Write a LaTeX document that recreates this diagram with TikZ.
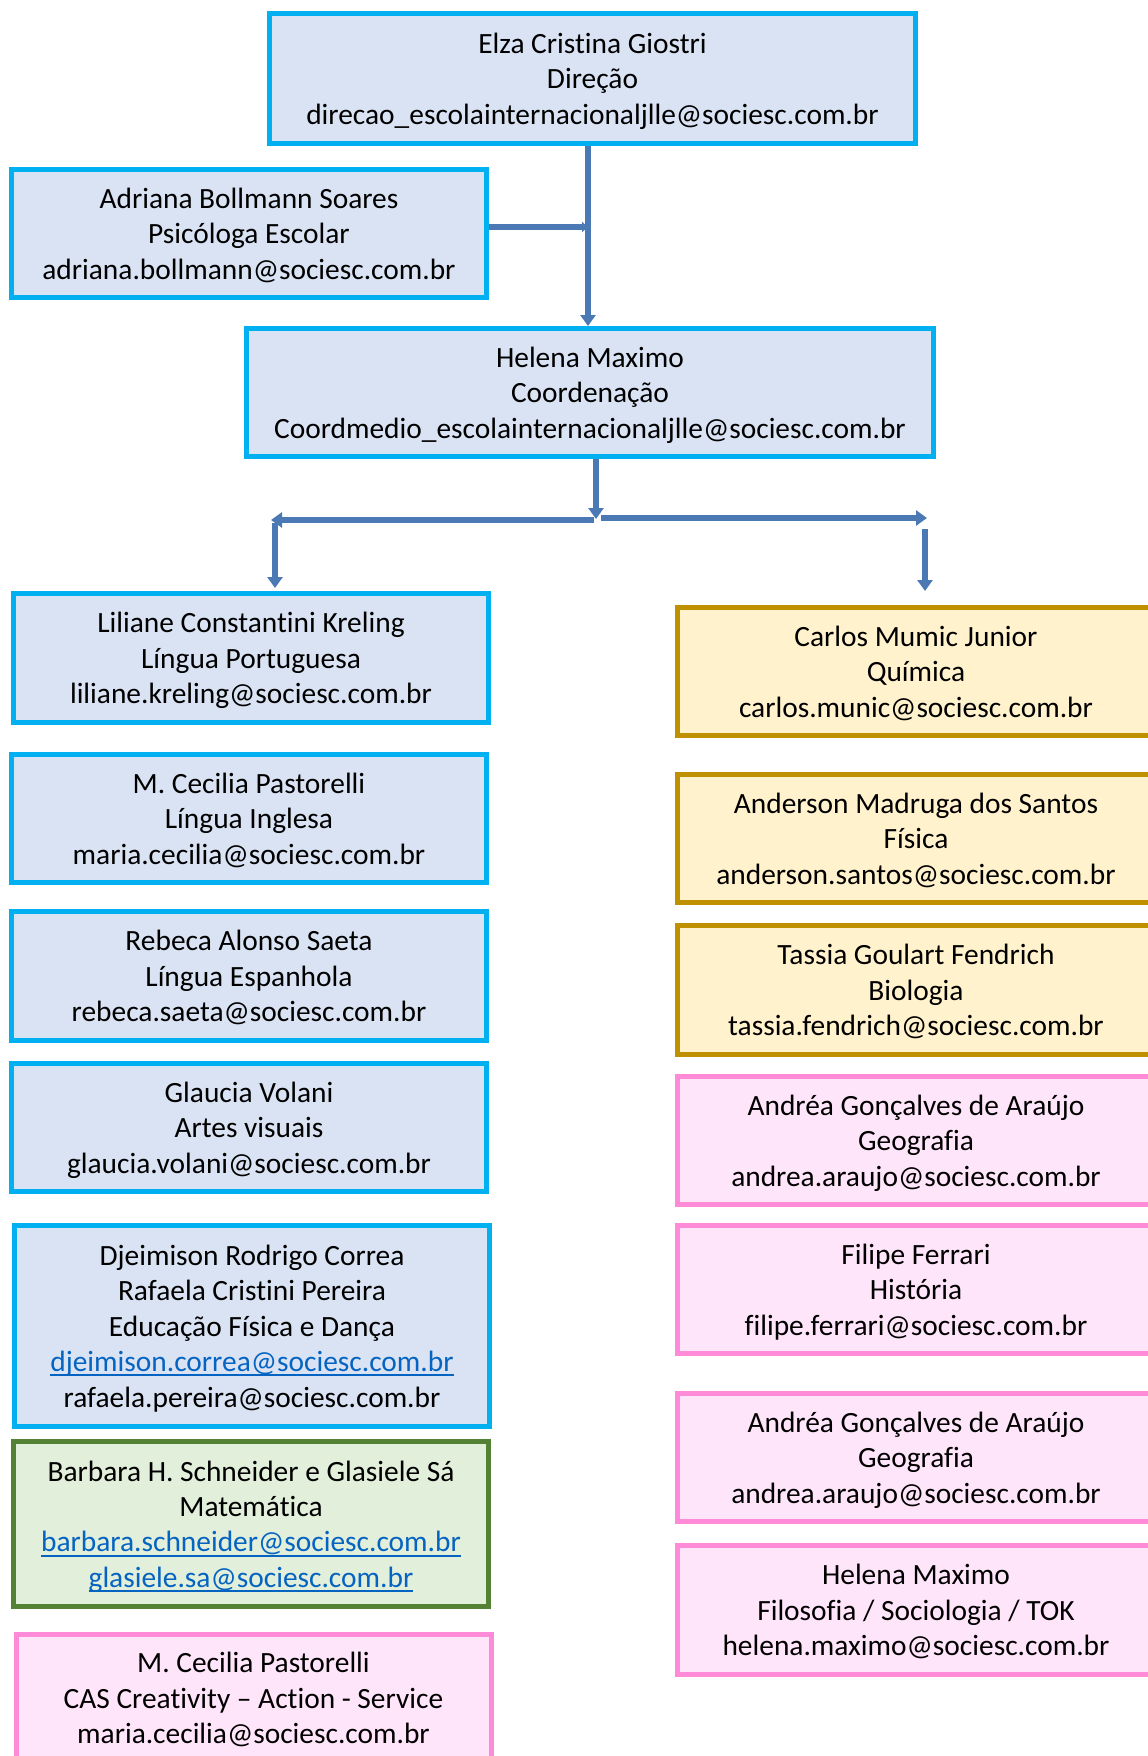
\documentclass[tikz,border=0pt]{standalone}
\usepackage{fontspec}
\setmainfont{Carlito}[Ligatures={NoCommon}]
\usetikzlibrary{arrows.meta}
\definecolor{bluebd}{HTML}{00B0F0}
\definecolor{bluefill}{HTML}{DAE3F3}
\definecolor{goldbd}{HTML}{BF9000}
\definecolor{goldfill}{HTML}{FFF2CC}
\definecolor{greenbd}{HTML}{548235}
\definecolor{greenfill}{HTML}{E2EFDA}
\definecolor{pinkbd}{HTML}{FF8AD8}
\definecolor{pinkfill}{HTML}{FFE5FA}
\definecolor{arrowc}{HTML}{4A79B3}
\definecolor{linkc}{HTML}{0563C1}
\newcommand\lnk[1]{\textcolor{linkc}{\setbox0\hbox{#1}\rlap{\rule[-4.6pt]{\wd0}{1.8pt}}\box0}}
\begin{document}
\begin{tikzpicture}[x=1pt,y=-1pt,
  box/.style={rectangle, line width=5pt, align=center, inner sep=0pt,
    font=\fontsize{29.4}{35.4}\selectfont, minimum height=128pt,
    text depth=-1.5pt},
  bbox/.style={box, draw=bluebd, fill=bluefill},
  gbox/.style={box, draw=goldbd, fill=goldfill, minimum width=477pt},
  grbox/.style={box, draw=greenbd, fill=greenfill},
  pbox/.style={box, draw=pinkbd, fill=pinkfill},
  rpbox/.style={pbox, minimum width=477pt},
  lw/.style={minimum width=475pt},
  conn/.style={draw=arrowc, line width=5.5pt, -{Triangle[width=15pt,length=11pt]}}]
\useasboundingbox (0,0) rectangle (1148,1756);
\clip (0,0) rectangle (1148,1756);

% top
\node[bbox, minimum width=646pt, minimum height=130pt] (dir) at (592.5,78.5)
  {Elza Cristina Giostri\\Direção\\direcao\_escolainternacionaljlle@sociesc.com.br};
\node[bbox, lw] (adr) at (249,233.5)
  {Adriana Bollmann Soares\\Psicóloga Escolar\\adriana.bollmann@sociesc.com.br};
\node[bbox, minimum width=687pt] (hel) at (590,392.5)
  {Helena Maximo\\Coordenação\\Coordmedio\_escolainternacionaljlle@sociesc.com.br};

% left column
\node[bbox, lw, minimum height=129pt] (lil) at (251,658)
  {Liliane Constantini Kreling\\Língua Portuguesa\\liliane.kreling@sociesc.com.br};
\node[bbox, lw] (mcp) at (249,818.5)
  {M. Cecilia Pastorelli\\Língua Inglesa\\maria.cecilia@sociesc.com.br};
\node[bbox, lw, minimum height=129pt] (reb) at (249,976)
  {Rebeca Alonso Saeta\\Língua Espanhola\\rebeca.saeta@sociesc.com.br};
\node[bbox, lw] (gla) at (249,1127.5)
  {Glaucia Volani\\Artes visuais\\glaucia.volani@sociesc.com.br};
\node[bbox, lw, minimum height=201pt] (dje) at (252,1326)
  {Djeimison Rodrigo Correa\\Rafaela Cristini Pereira\\Educação Física e Dança\\\lnk{djeimison.correa@sociesc.com.br}\\rafaela.pereira@sociesc.com.br};
\node[grbox, lw, minimum height=165pt] (bar) at (251,1524)
  {Barbara H. Schneider e Glasiele Sá\\Matemática\\\lnk{barbara.schneider@sociesc.com.br}\\\lnk{glasiele.sa@sociesc.com.br}};
\node[pbox, lw, minimum height=128pt] (cas) at (253.5,1698)
  {M. Cecilia Pastorelli\\CAS Creativity – Action - Service\\maria.cecilia@sociesc.com.br};

% right column
\node[gbox] (car) at (916,671.5)
  {Carlos Mumic Junior\\Química\\carlos.munic@sociesc.com.br};
\node[gbox] (and) at (916,838.5)
  {Anderson Madruga dos Santos\\Física\\anderson.santos@sociesc.com.br};
\node[gbox, minimum height=129pt] (tas) at (916,990)
  {Tassia Goulart Fendrich\\Biologia\\tassia.fendrich@sociesc.com.br};
\node[rpbox] (ara) at (916,1140.5)
  {Andréa Gonçalves de Araújo\\Geografia\\andrea.araujo@sociesc.com.br};
\node[rpbox] (fil) at (916,1289.5)
  {Filipe Ferrari\\História\\filipe.ferrari@sociesc.com.br};
\node[rpbox] (arb) at (916,1457.5)
  {Andréa Gonçalves de Araújo\\Geografia\\andrea.araujo@sociesc.com.br};
\node[rpbox, minimum height=129pt] (hmx) at (916,1610)
  {Helena Maximo\\Filosofia / Sociologia / TOK\\helena.maximo@sociesc.com.br};

% connectors
\coordinate (j1) at (588,227);
\draw[conn] (dir.south -| j1) -- (hel.north -| j1);
\draw[conn, -{Triangle[width=10pt,length=6pt]}] (adr.east |- j1) -- (j1);
\coordinate (h0) at (596,519);
\draw[conn] (hel.south -| h0) -- (h0);
\coordinate (hls) at (594,520);
\coordinate (hl) at (271,520);
\draw[conn] (hls) -- (hl);
\coordinate (hrs) at (601,518);
\coordinate (hr) at (927,518);
\draw[conn] (hrs) -- (hr);
\coordinate (vl) at (275,523);
\draw[conn, shorten >=3pt] (vl) -- (lil.north -| vl);
\coordinate (vr) at (925,529);
\coordinate (vre) at (925,591);
\draw[conn] (vr) -- (vre);
\end{tikzpicture}
\end{document}
